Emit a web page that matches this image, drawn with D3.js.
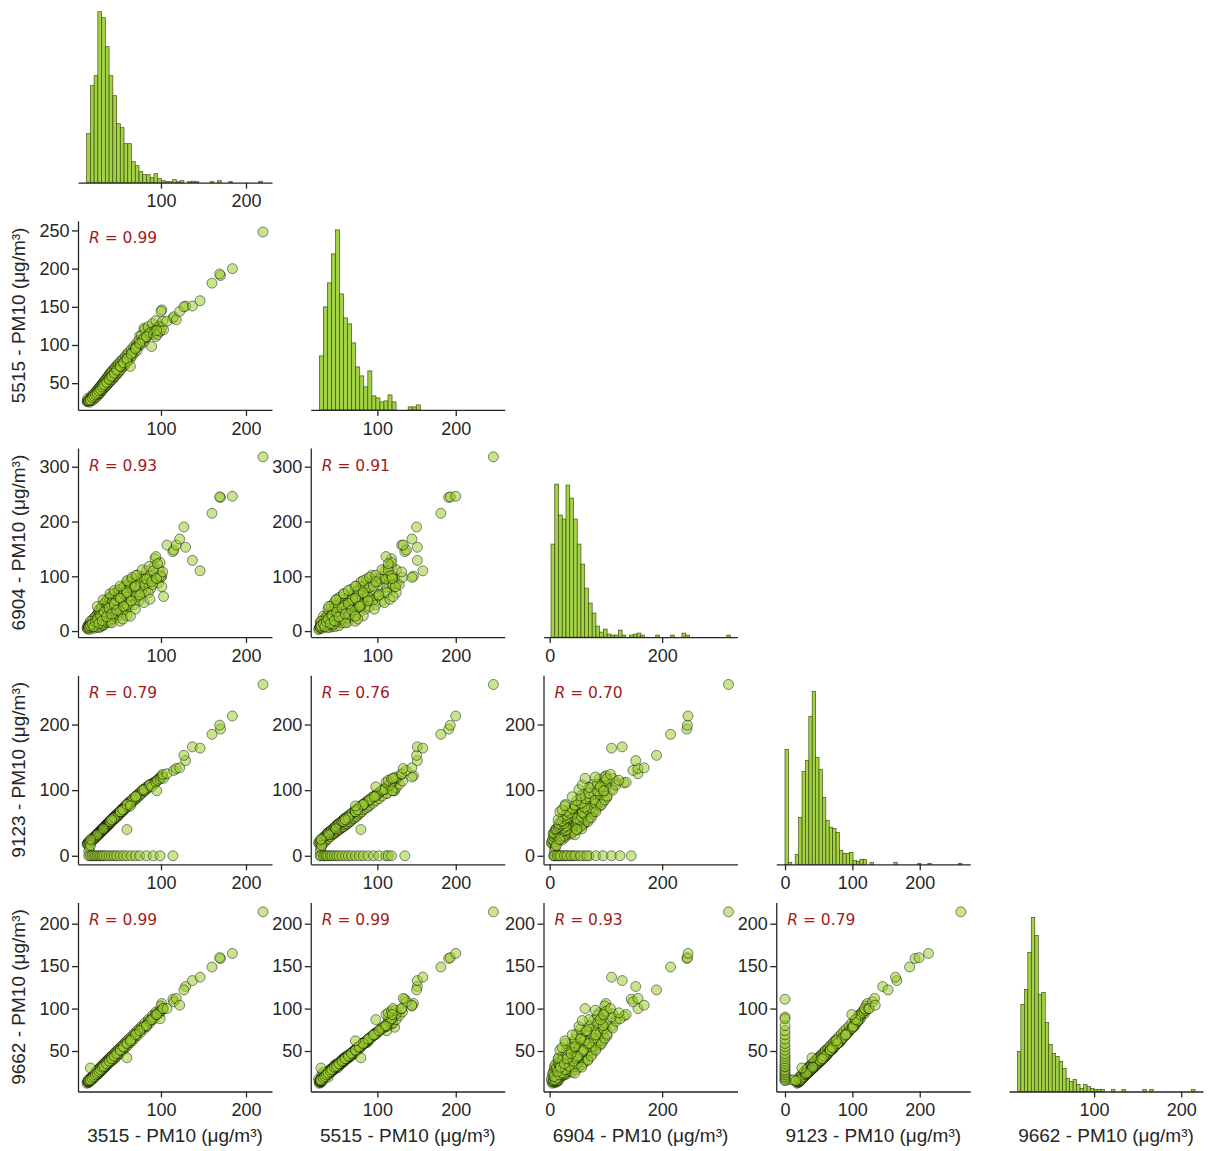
<!DOCTYPE html>
<html><head><meta charset="utf-8">
<script src="https://cdn.jsdelivr.net/npm/d3@7"></script>
<style>body{margin:0;background:#fff} svg{display:block}</style>
</head><body><svg id="chart" width="1208" height="1151"></svg>
<script>
// ---------- data ----------
const stations = ["3515", "5515", "6904", "9123", "9662"];
const axisLabelSuffix = " - PM10 (μg/m³)";
const domains = [[2.4, 230.6], [15, 262.5], [-11, 334], [-13, 275], [2.3, 225]];
const xTickValues = [[100, 200], [100, 200], [0, 200], [0, 100, 200], [100, 200]];
const yTickValues = [[], [50, 100, 150, 200, 250], [0, 100, 200, 300], [0, 100, 200], [50, 100, 150, 200]];
const rValues = [[], [0.99], [0.93, 0.91], [0.79, 0.76, 0.70], [0.99, 0.99, 0.93, 0.79]];

// histogram bins (start, width) and bar heights per station
const histStart = [12.55, 26, 2.4, 0, 11.9];
const histWidth = [4.4, 5.15, 6.65, 5.05, 4.0];
const hist3515 = [49, 97, 107, 171, 165, 136, 107, 87, 59, 55, 39, 39, 21, 17, 11, 8, 8, 5, 9, 4, 2, 1, 1, 3, 1, 2, 0, 1, 1.5, 1, 0, 0, 0, 1, 0, 2, 0, 0, 1, 0, 0, 0, 0, 0, 0, 0, 1.5, 0];
const hist5515 = [54, 103, 127, 156, 180, 116, 92, 86, 67, 43, 34, 23, 39, 14, 12, 8, 9, 15, 8, 0, 0, 0, 3, 3, 5];
const hist6904 = [93, 153, 122, 118, 152, 139, 118, 93, 73, 49, 34, 24, 11, 5, 8, 3, 2, 2, 7, 2, 0, 2, 3, 4, 2, 0, 0, 0, 2, 0, 0, 0, 2, 0, 0, 4, 2, 0, 0, 0, 0, 0, 0, 0, 0, 0, 0, 2];
const hist9123 = [115, 2, 0, 10, 47, 93, 104, 148, 173, 107, 95, 67, 44, 37, 36, 32, 14, 11, 11, 12, 4, 3, 5, 5, 0, 2, 0, 0, 0, 0, 0, 0, 2, 0, 0, 0, 0, 0, 0, 1, 0, 0, 1, 0, 0, 0, 0, 0, 0, 0, 0, 1];
const hist9662 = [40, 87, 102, 139, 174, 156, 97, 99, 69, 47, 38, 35, 30, 23, 13, 10, 12, 7, 3, 7, 5, 3, 2, 2, 2, 0, 0, 2, 0, 0, 2, 0, 0, 0, 0, 0, 2, 0, 2, 0, 0, 0, 0, 0, 0, 0, 0, 0, 0, 0, 2];
const histCounts = [hist3515, hist5515, hist6904, hist9123, hist9662];

// observations, columns in the order of `stations`
const pm10Rows = [
 [13,26,5,18,12],[14,27,8,19,13],[14,26,4,20,14],[15,28,11,20,13],[15,27,6,19,14],[16,29,9,21,15],[16,28,14,22,14],
 [17,28,7,22,16],[17,29,12,23,15],[18,29,10,23,17],[18,30,15,24,16],[18,28,6,23,17],[19,31,13,25,18],[19,30,9,24,17],
 [19,32,18,25,19],[20,31,11,26,18],[20,33,16,27,19],[20,30,8,25,20],[21,33,14,27,19],[21,32,21,28,20],[21,34,12,26,21],
 [22,34,10,28,21],[22,35,17,29,20],[22,33,24,28,22],[23,35,13,29,22],[23,36,20,30,21],[23,34,9,29,23],[24,36,15,31,23],
 [24,37,27,30,22],[24,35,12,31,24],[24,38,19,32,23],[25,37,14,32,24],[25,38,23,31,25],[25,36,11,33,24],[25,39,30,32,23],
 [25,37,17,31,25],[26,38,13,33,25],[26,39,22,34,24],[26,40,31,33,26],[26,37,16,34,25],[27,39,10,35,26],[27,41,26,34,27],
 [27,40,19,35,25],[27,38,34,36,26],[28,41,14,36,27],[28,42,29,35,28],[28,40,21,37,26],[28,43,33,36,27],[28,39,12,35,28],
 [29,42,25,37,28],[29,43,36,38,27],[29,41,18,37,29],[29,44,30,36,28],[29,42,15,38,27],[30,43,27,38,29],[30,45,38,39,30],
 [30,42,20,37,28],[30,44,32,39,29],[30,43,11,38,30],[30,46,24,40,29],[31,44,17,39,30],[31,46,29,40,31],[31,45,37,41,29],
 [31,43,23,39,30],[32,45,14,41,31],[32,47,33,40,32],[32,46,41,42,30],[32,44,26,41,31],[32,48,20,42,32],[33,47,35,42,32],
 [33,46,28,43,31],[33,49,44,41,33],[33,45,16,42,32],[33,48,31,43,33],[34,47,22,44,33],[34,49,38,43,32],[34,50,30,45,34],
 [34,48,46,44,33],[34,46,19,43,34],[34,51,34,45,32],[33,50,39,42,33],[32,49,27,41,30],[31,47,32,40,31],
 [35,49,25,45,34],[35,51,40,46,35],[35,48,18,44,33],[35,52,33,46,34],[36,50,29,47,35],[36,53,47,46,36],[36,51,21,47,34],
 [36,49,37,48,35],[37,52,31,48,36],[37,54,43,49,35],[37,51,24,47,36],[37,53,36,48,37],[38,54,28,49,37],[38,52,45,50,36],
 [38,55,34,49,38],[38,53,51,50,37],[39,55,30,51,38],[39,57,42,50,37],[39,54,22,51,38],
 [40,56,35,52,39],[40,57,48,53,38],[40,55,27,51,40],[41,58,39,53,40],[41,56,55,54,39],[41,59,31,52,40],[41,57,44,54,41],
 [42,59,36,55,41],[42,60,52,54,40],[42,58,26,55,42],[42,61,41,56,41],[43,60,33,55,42],[43,62,58,57,42],[43,59,46,56,43],
 [43,61,38,55,41],[44,61,30,57,43],[44,63,49,58,42],[44,62,40,56,44],[45,62,55,58,44],[45,64,35,59,43],[45,63,62,58,45],
 [46,64,43,60,45],[46,66,28,59,44],[46,65,51,61,46],[47,65,38,61,46],[47,67,60,62,45],[47,66,46,60,47],
 [48,67,34,62,47],[48,69,56,63,46],[49,68,44,64,48],[49,70,66,63,48],[50,69,39,65,49],[50,71,58,66,49],[51,70,48,66,50],
 [52,73,70,67,51],[53,72,37,69,52],[53,74,60,68,52],[54,74,50,70,53],[54,76,75,71,52],[55,75,42,71,54],[55,77,63,72,54],
 [56,76,53,73,55],[56,78,80,72,55],[57,79,45,74,56],[58,80,68,75,57],[59,81,57,77,58],[60,84,85,78,59],[60,82,50,77,59],
 [62,85,72,80,61],[62,87,58,81,60],[63,86,88,82,62],[64,89,63,83,63],[65,88,78,84,64],[67,91,55,86,66],[68,93,90,88,67],
 [70,96,70,90,69],[72,97,95,92,71],[73,99,62,94,72],[76,103,85,97,75],[79,108,100,101,78],[82,110,72,104,80],
 [85,115,92,106,84],[88,119,78,109,86],[91,121,95,111,89],[97,125,88,117,95],[80,122,98,99,78],[84,118,88,103,82],
 [75,112,80,95,74],
 [14,30,10,17,15],[16,25,3,20,17],[18,33,8,21,19],[19,27,16,23,16],[20,35,22,24,21],[21,29,5,25,22],[22,37,13,26,19],
 [23,31,27,28,25],[24,40,7,29,26],[25,33,20,30,22],[26,42,9,32,28],[26,35,26,31,23],[27,44,38,33,29],[27,36,6,34,24],
 [28,45,17,34,30],[28,37,40,35,25],[29,46,8,35,31],[29,38,22,36,26],[30,48,43,37,32],[30,40,13,37,27],[31,49,26,38,33],
 [31,41,46,39,28],[32,51,10,40,34],[32,42,30,39,29],[33,52,50,40,35],[33,44,12,41,30],[34,53,24,42,36],[34,45,52,43,31],
 [35,55,15,43,37],[35,46,44,44,32],[36,56,55,44,38],[36,47,17,45,33],[37,58,29,45,39],[37,48,58,46,34],[38,59,20,47,40],
 [38,50,48,48,35],[39,61,60,48,41],[39,51,25,49,36],[40,62,16,49,42],[40,52,62,50,37],[41,64,50,51,43],[41,54,20,52,38],
 [42,65,64,52,44],[43,55,23,53,39],[43,67,54,54,45],[44,57,68,55,40],[45,68,28,56,47],[45,58,47,57,41],[46,70,70,57,48],
 [47,60,32,58,43],[47,72,57,59,49],[48,62,24,60,44],[49,74,72,60,51],[50,64,30,62,46],[50,75,62,63,52],[51,66,76,63,47],
 [52,78,35,65,54],[53,68,58,66,49],[54,80,78,67,56],[55,71,30,68,51],[56,82,68,70,58],[57,73,82,71,53],[58,85,40,72,60],
 [59,76,74,73,55],[60,88,62,74,62],[61,79,90,76,57],[62,90,45,77,64],[64,82,82,79,60],[65,94,56,80,67],[66,86,95,82,62],
 [68,98,48,84,70],[69,90,80,85,65],[71,102,64,87,73],[72,93,102,89,68],[74,106,55,91,76],[76,100,90,93,72],
 [77,112,70,95,79],[80,104,96,98,76],[81,120,84,99,83],[83,110,110,102,79],[85,124,70,104,87],[87,114,100,106,83],
 [90,128,85,109,92],[92,118,118,112,88],[94,132,98,114,96],[98,124,112,118,94],
 [25,38,45,32,24],[32,47,57,41,31],[40,57,68,52,39],[45,63,74,58,44],[52,72,82,67,51],[60,82,92,78,59],[66,90,98,85,65],
 [71,98,102,91,70],[78,106,112,100,77],[86,114,118,108,85],[93,118,132,111,91],[42,59,15,55,41],[52,72,18,67,51],
 [60,82,28,78,59],[70,96,40,90,69],[80,109,52,101,79],[87,116,58,108,86],[55,75,22,70,54],
 [15,27,8,7,16],[16,28,10,12,16],[17,29,12,16,15],[17,28,18,25,30],[60,79,48,40,42],
 [15,27,7,0,15],[17,28,10,0,16],[19,31,13,0,18],[21,33,8,0,20],[23,35,17,0,22],[25,37,22,0,24],[27,40,14,0,26],
 [29,42,28,0,28],[31,45,19,0,31],[33,48,35,0,32],[36,51,26,0,35],[39,55,42,0,38],[42,59,31,0,41],[45,63,50,0,44],
 [48,67,38,0,47],[52,72,60,0,51],[56,77,45,0,55],[60,82,70,0,59],[65,88,55,0,64],[70,95,82,0,69],[75,102,66,0,74],
 [83,111,95,0,80],[91,114,110,0,90],[99,118,125,0,88],[114,135,145,0,111],
 [64,72,27,76,62],[89,98,90,105,87],[101,146,100,122,106],[100,144,98,120,103],[94,111,136,112,93],[96,114,123,115,95],
 [99,118,101,117,97],[101,123,81,120,98],[103,120,63,118,100],[95,119,96,99,93],[102,131,108,124,100],[107,131,157,125,100],
 [115,137,148,130,108],[118,133,157,133,112],[122,144,168,134,104],[129,151,153,145,126],[127,150,190,153,122],
 [137,151,129,166,133],[146,158,110,164,137],[160,181,215,185,149],[170,191,244,193,159],[169,193,245,199,160],
 [184,200,246,213,165],[220,248,318,261,214]
];

// ---------- layout ----------
const svg = d3.select("#chart");
const left0 = 78, colStep = 232.75, top0 = -6.3, rowStep = 227.2;
const panelW = 194, panelH = 189;
const axisColor = "#262626";
const tickFont = "'Liberation Sans', Arial, sans-serif";
const green = "#9acd32";

const histMax = d3.max(histCounts.flat());
const yHist = d3.scaleLinear([0, histMax * 1.05], [panelH, 0]);

function styleAxis(g) {
  g.select(".domain").attr("stroke", axisColor).attr("stroke-width", 1.3);
  g.selectAll(".tick line").attr("stroke", axisColor).attr("stroke-width", 1.3);
  g.selectAll(".tick text").attr("fill", axisColor).attr("font-size", 18).attr("font-family", tickFont);
  g.attr("font-size", null).attr("font-family", null);
}

const defs = svg.append("defs");
defs.append("clipPath").attr("id", "panelClip")
  .append("rect").attr("x", 0).attr("y", 0).attr("width", panelW).attr("height", panelH);

for (let i = 0; i < stations.length; i++) {
  for (let j = 0; j <= i; j++) {
    const g = svg.append("g")
      .attr("transform", `translate(${left0 + j * colStep},${top0 + i * rowStep})`);
    const x = d3.scaleLinear(domains[j], [0, panelW]);

    if (i === j) {
      const counts = histCounts[i];
      const bins = counts.map((c, k) => ({
        x0: histStart[i] + k * histWidth[i],
        x1: histStart[i] + (k + 1) * histWidth[i],
        c
      })).filter(d => d.c > 0);
      g.append("g").selectAll("rect").data(bins).join("rect")
        .attr("x", d => x(d.x0))
        .attr("width", d => x(d.x1) - x(d.x0))
        .attr("y", d => yHist(d.c))
        .attr("height", d => panelH - yHist(d.c))
        .attr("fill", green).attr("fill-opacity", 0.9)
        .attr("stroke", "#3e5212").attr("stroke-width", 0.7);
    } else {
      const y = d3.scaleLinear(domains[i], [panelH, 0]);
      g.append("g").attr("clip-path", "url(#panelClip)")
        .selectAll("circle").data(pm10Rows).join("circle")
        .attr("cx", d => x(d[j]))
        .attr("cy", d => y(d[i]))
        .attr("r", 5)
        .attr("fill", green).attr("fill-opacity", 0.55)
        .attr("stroke", "#000").attr("stroke-opacity", 0.5).attr("stroke-width", 0.9);

      g.append("g")
        .call(d3.axisLeft(y).tickValues(yTickValues[i]).tickSize(6).tickSizeOuter(0).tickPadding(2.5))
        .call(styleAxis);

      const rt = g.append("text")
        .attr("x", 11).attr("y", 22.5)
        .attr("font-family", "'DejaVu Sans', sans-serif")
        .attr("font-size", 15.5)
        .attr("fill", "#a01c1c");
      rt.append("tspan").attr("font-style", "italic").text("R");
      rt.append("tspan").text(" = " + d3.format(".2f")(rValues[i][j]));
    }

    g.append("g").attr("transform", `translate(0,${panelH})`)
      .call(d3.axisBottom(x).tickValues(xTickValues[j]).tickSize(6).tickSizeOuter(0).tickPadding(6))
      .call(styleAxis);

    if (i === stations.length - 1) {
      g.append("text")
        .attr("x", panelW / 2).attr("y", panelH + 50)
        .attr("text-anchor", "middle")
        .attr("font-family", tickFont).attr("font-size", 19)
        .attr("fill", axisColor)
        .text(stations[j] + axisLabelSuffix);
    }
    if (j === 0 && i > 0) {
      g.append("text")
        .attr("transform", `translate(-53,${panelH / 2}) rotate(-90)`)
        .attr("text-anchor", "middle")
        .attr("font-family", tickFont).attr("font-size", 19)
        .attr("fill", axisColor)
        .text(stations[i] + axisLabelSuffix);
    }
  }
}
</script></body></html>
